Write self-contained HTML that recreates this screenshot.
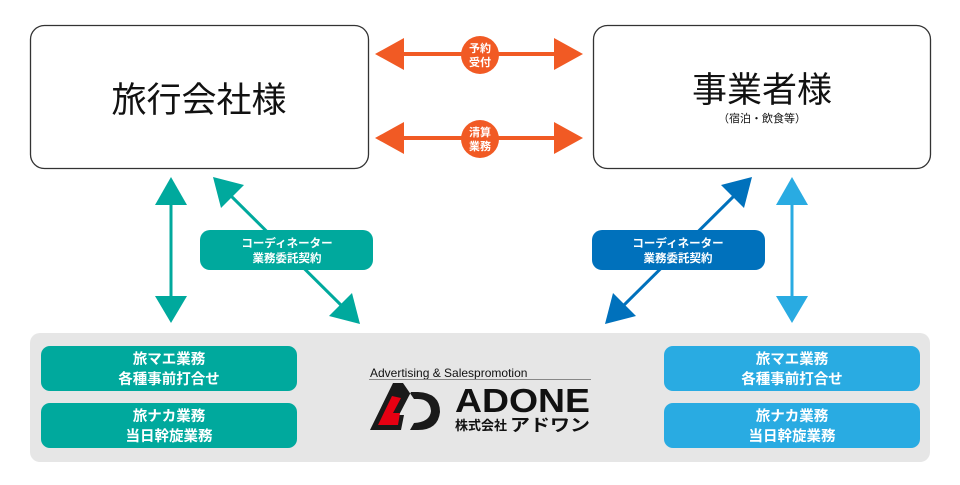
<!DOCTYPE html>
<html><head><meta charset="utf-8"><style>
body{margin:0;background:#fff;}
svg text{font-family:"Liberation Sans","Noto Sans CJK JP",sans-serif;}
</style></head><body>
<svg width="960" height="480" viewBox="0 0 960 480" xmlns="http://www.w3.org/2000/svg">
<rect x="0" y="0" width="960" height="480" fill="#fff"/>
<!-- top boxes -->
<rect x="30.5" y="25.5" width="338" height="143" rx="14" fill="#fff" stroke="#333" stroke-width="1.3"/>
<text x="199" y="112" text-anchor="middle" font-size="35" fill="#111">旅行会社様</text>
<rect x="593.5" y="25.5" width="337" height="143" rx="14" fill="#fff" stroke="#333" stroke-width="1.3"/>
<text x="762" y="102" text-anchor="middle" font-size="35" fill="#111">事業者様</text>
<text x="762" y="122" text-anchor="middle" font-size="11" fill="#111">（宿泊・飲食等）</text>
<!-- orange arrows -->
<g fill="#f15a24">
<rect x="400" y="52" width="158" height="4"/>
<polygon points="375,54 404,38 404,70"/>
<polygon points="583,54 554,38 554,70"/>
<circle cx="480" cy="55" r="19"/>
<rect x="400" y="136" width="158" height="4"/>
<polygon points="375,138 404,122 404,154"/>
<polygon points="583,138 554,122 554,154"/>
<circle cx="480" cy="139" r="19"/>
</g>
<g fill="#fff" font-size="11" font-weight="bold" text-anchor="middle">
<text x="480" y="52">予約</text><text x="480" y="66">受付</text>
<text x="480" y="136">清算</text><text x="480" y="150">業務</text>
</g>
<!-- left arrows -->
<g fill="#00a99d" stroke="none">
<rect x="169.5" y="200" width="3" height="100"/>
<polygon points="171,177 155,205 187,205"/>
<polygon points="171,323 155,296 187,296"/>
<line x1="225" y1="190" x2="348" y2="312" stroke="#00a99d" stroke-width="3"/>
<polygon points="213,177 221,208 244,185"/>
<polygon points="360,324 329,316 352,293"/>
<rect x="200" y="230" width="173" height="40" rx="10"/>
</g>
<g fill="#fff" font-size="11.5" font-weight="bold" text-anchor="middle">
<text x="287" y="247">コーディネーター</text><text x="287" y="262">業務委託契約</text>
</g>
<!-- right arrows -->
<line x1="740" y1="190" x2="617" y2="312" stroke="#0071bc" stroke-width="3"/>
<polygon points="752,177 721,185 744,208" fill="#0071bc"/>
<polygon points="605,324 613,293 636,316" fill="#0071bc"/>
<rect x="592" y="230" width="173" height="40" rx="10" fill="#0071bc"/>
<g fill="#fff" font-size="11.5" font-weight="bold" text-anchor="middle">
<text x="678" y="247">コーディネーター</text><text x="678" y="262">業務委託契約</text>
</g>
<g fill="#29abe2">
<rect x="790.5" y="200" width="3" height="100"/>
<polygon points="792,177 776,205 808,205"/>
<polygon points="792,323 776,296 808,296"/>
</g>
<!-- bottom panel -->
<rect x="30" y="333" width="900" height="129" rx="10" fill="#e6e6e6"/>
<g fill="#00a99d">
<rect x="41" y="346" width="256" height="45" rx="9"/>
<rect x="41" y="403" width="256" height="45" rx="9"/>
</g>
<g fill="#29abe2">
<rect x="664" y="346" width="256" height="45" rx="9"/>
<rect x="664" y="403" width="256" height="45" rx="9"/>
</g>
<g fill="#fff" font-size="14.5" font-weight="bold" text-anchor="middle">
<text x="169" y="364">旅マエ業務</text><text x="169" y="384">各種事前打合せ</text>
<text x="169" y="421">旅ナカ業務</text><text x="169" y="441">当日幹旋業務</text>
<text x="792" y="364">旅マエ業務</text><text x="792" y="384">各種事前打合せ</text>
<text x="792" y="421">旅ナカ業務</text><text x="792" y="441">当日幹旋業務</text>
</g>
<!-- logo -->
<text x="370" y="377" font-size="12" fill="#111">Advertising &amp; Salespromotion</text>
<rect x="369" y="379" width="222" height="1" fill="#888"/>
<path d="M393,383 L370,430 L401,430 L404,415 L399,415 L411,392 L418,392 Q440,393 440,412 Q438,430 418,430 L410,430 L414,423 Q430,422 431,411 Q430,399 418,399 L414,399 L403,383 Z" fill="#1a1a1a"/>
<polygon points="392,396 378,425 398,425 400,413 393,413 401,398" fill="#e60012"/>
<text x="455" y="412" font-size="33" font-weight="900" fill="#111" textLength="135" lengthAdjust="spacingAndGlyphs">ADONE</text>
<text x="455" y="430" font-size="13" font-weight="bold" fill="#111">株式会社</text>
<text x="510" y="431" font-size="17" font-weight="bold" fill="#111" textLength="80" lengthAdjust="spacingAndGlyphs">アドワン</text>
</svg>
</body></html>
